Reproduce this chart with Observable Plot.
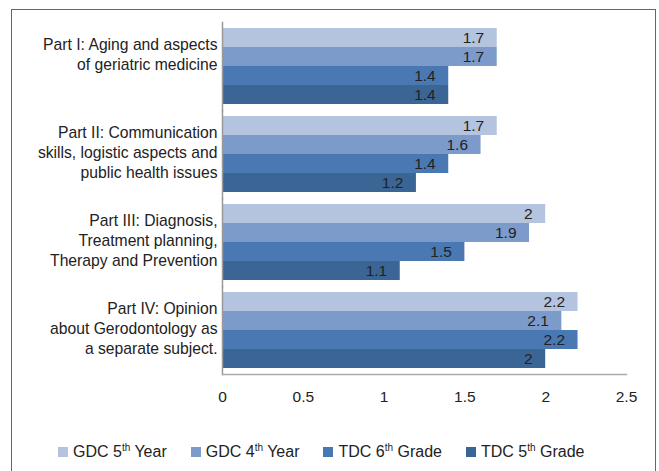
<!DOCTYPE html>
<html><head><meta charset="utf-8">
<script src="https://cdn.jsdelivr.net/npm/d3@7"></script>
<script src="https://cdn.jsdelivr.net/npm/@observablehq/plot@0.6"></script>
<style>
body{margin:0;background:#fff;font-family:"Liberation Sans",Arial,sans-serif;}
#wrap{position:relative;width:659px;height:471px;overflow:hidden;background:#fff}
#frame{position:absolute;left:11px;top:9px;width:645px;height:480px;border:1.5px solid #666;border-bottom:none;box-sizing:border-box}
#chart{position:absolute;left:0;top:0}
#legend{position:absolute;top:443px;left:58px;display:flex;align-items:center;font-size:16px;color:#222;white-space:nowrap}
#legend .item{display:flex;align-items:center;margin-right:24px}
#legend .sw{width:10px;height:10px;margin-right:5px;display:inline-block}
#legend sup{font-size:10px;line-height:0;vertical-align:6px}
</style></head>
<body>
<div id="wrap"><div id="frame"></div><div id="chart"></div><div id="legend"></div></div>
<script>
const parts = [
  "Part I: Aging and aspects\nof geriatric medicine\n",
  "Part II: Communication\nskills, logistic aspects and\npublic health issues",
  "Part III: Diagnosis,\nTreatment planning,\nTherapy and Prevention",
  "Part IV: Opinion\nabout Gerodontology as\na separate subject."
];
const series = ["GDC 5th Year", "GDC 4th Year", "TDC 6th Grade", "TDC 5th Grade"];
const colors = ["#b4c3de", "#7c9bca", "#4a78b3", "#3a6595"];
const gdc5 = [1.7, 1.7, 2, 2.2];
const gdc4 = [1.7, 1.6, 1.9, 2.1];
const tdc6 = [1.4, 1.4, 1.5, 2.2];
const tdc5 = [1.4, 1.2, 1.1, 2];
const xTicks = [0, 0.5, 1, 1.5, 2, 2.5];

const valuesBySeries = [gdc5, gdc4, tdc6, tdc5];
const data = [];
parts.forEach((p, i) => series.forEach((s, j) => data.push({part: p, series: s, value: valuesBySeries[j][i]})));

const chart = Plot.plot({
  width: 659,
  height: 420,
  marginLeft: 222,
  marginRight: 33,
  marginTop: 22,
  marginBottom: 46,
  style: {fontFamily: '"Liberation Sans", Arial, sans-serif', fontSize: "15px", color: "#222", background: "transparent"},
  x: {domain: [0, 2.5], ticks: xTicks, label: null},
  fy: {domain: parts, paddingInner: 0.136, paddingOuter: 0.068, label: null},
  y: {domain: series, padding: 0, axis: null},
  color: {domain: series, range: colors},
  marks: [
    Plot.barX(data, {fy: "part", y: "series", x: "value", fill: "series", inset: 0}),
    Plot.text(data, {fy: "part", y: "series", x: "value", text: d => String(d.value), textAnchor: "end", dx: -13, fontSize: 15.5, fill: "#222"}),
    Plot.frame({anchor: "left", stroke: "#999", strokeWidth: 1.5, insetTop: -6, insetBottom: -6}),
    Plot.frame({anchor: "bottom", facetAnchor: "bottom", stroke: "#aaa", strokeWidth: 1.5, insetBottom: -6}),
    Plot.axisFy({anchor: "left", tickSize: 0, tickPadding: 5, fontSize: 15.7, lineHeight: 1.3, dy: -3, label: null, fill: "#222"}),
    Plot.axisX({anchor: "bottom", tickSize: 0, tickPadding: 22, fontSize: 15.5, label: null, fill: "#222", tickFormat: d => String(d)})
  ]
});
document.getElementById("chart").appendChild(chart);

const legend = document.getElementById("legend");
series.forEach((s, j) => {
  const item = document.createElement("div");
  item.className = "item";
  const sw = document.createElement("span");
  sw.className = "sw";
  sw.style.background = colors[j];
  const t = document.createElement("span");
  t.innerHTML = s.replace(/(\d)(th)/, "$1<sup>$2</sup>");
  item.appendChild(sw);
  item.appendChild(t);
  legend.appendChild(item);
});
</script>
</body></html>
